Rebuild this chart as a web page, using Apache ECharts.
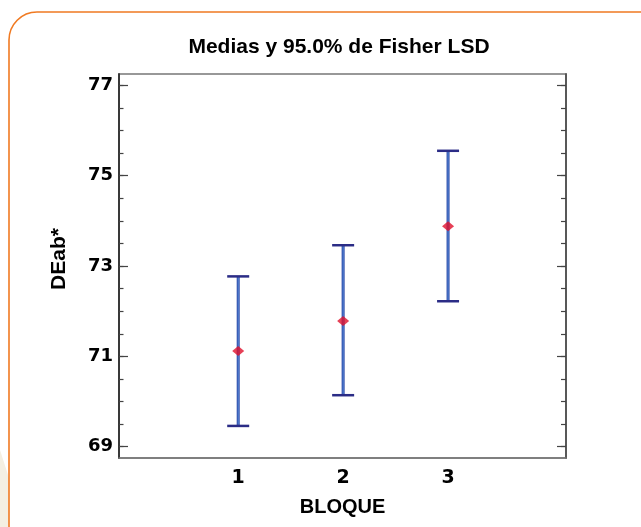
<!DOCTYPE html>
<html>
<head>
<meta charset="utf-8">
<script src="https://cdn.jsdelivr.net/npm/echarts@6/dist/echarts.min.js"></script>
<style>
html,body{margin:0;padding:0;background:#fff;}
#chart{width:641px;height:527px;}
</style>
</head>
<body>
<div id="chart"></div>
<script>
// Data
var categories = [1, 2, 3];
var categoryLabels = ['1', '2', '3'];
var means = [71.12, 71.78, 73.88];
var lower = [69.46, 70.14, 72.22];
var upper = [72.77, 73.46, 75.55];
var yMajorTicks = [69, 71, 73, 75, 77];
var yMinorTicks = [69, 69.5, 70, 70.5, 71, 71.5, 72, 72.5, 73, 73.5, 74, 74.5, 75, 75.5, 76, 76.5, 77];

var FONT = '"Liberation Sans", Arial, sans-serif';
var TICKFONT = '"DejaVu Sans", sans-serif';
var chart = echarts.init(document.getElementById('chart'));

var errData = categories.map(function (c, i) { return [c, lower[i], upper[i]]; });
var ptData = categories.map(function (c, i) { return [c, means[i]]; });

function yAxisBase(pos, ticks, len, showLabel, lineColor) {
  return {
    type: 'value', min: 68.75, max: 77.25, position: pos,
    splitLine: { show: false },
    axisLine: { show: true, onZero: false, lineStyle: { color: lineColor, width: 1.5 } },
    axisTick: { show: true, inside: true, length: len, customValues: ticks, lineStyle: { color: '#444', width: 1.2 } },
    axisLabel: { show: showLabel, customValues: yMajorTicks, margin: 6, color: '#000', fontFamily: TICKFONT, fontWeight: 'bold', fontSize: 18 }
  };
}

var option = {
  animation: false,
  backgroundColor: '#fff',
  grid: { left: 119, top: 74, right: 75, bottom: 69, show: true, borderColor: '#777', borderWidth: 1.5 },
  xAxis: {
    type: 'value', min: -0.136, max: 4.124,
    splitLine: { show: false },
    axisLine: { show: true, onZero: false, lineStyle: { color: '#777', width: 1.5 } },
    axisTick: { show: false },
    axisLabel: { customValues: categories, formatter: function (v) { return categoryLabels[categories.indexOf(v)] || ''; }, margin: 11, color: '#000', fontFamily: TICKFONT, fontWeight: 'bold', fontSize: 19 },
    name: 'BLOQUE', nameLocation: 'middle', nameGap: 39,
    nameTextStyle: { color: '#000', fontFamily: FONT, fontWeight: 'bold', fontSize: 20 }
  },
  yAxis: [
    yAxisBase('left', yMajorTicks, 9, true, '#333'),
    yAxisBase('left', yMinorTicks, 4.5, false, '#333'),
    yAxisBase('right', yMajorTicks, 9, false, '#555'),
    yAxisBase('right', yMinorTicks, 5, false, '#555')
  ],
  graphic: [
    { type: 'polygon', shape: { points: [[0, 450], [9, 478], [9, 527], [0, 527]] }, style: { fill: '#f4efe2' }, z: -10 },
    { type: 'rect', shape: { x: 9, y: 12, width: 680, height: 560, r: 28 }, style: { fill: '#fff', stroke: '#f07a22', lineWidth: 1.6 }, z: -5 },
    { type: 'text', x: 339, y: 47, style: { text: 'Medias y 95.0% de Fisher LSD', textAlign: 'center', textVerticalAlign: 'middle', fill: '#000', font: 'bold 21px ' + FONT }, z: 10 },
    { type: 'text', x: 59, y: 259, rotation: Math.PI / 2, style: { text: 'DEab*', textAlign: 'center', textVerticalAlign: 'middle', fill: '#000', font: 'bold 21px ' + FONT }, z: 10 }
  ],
  series: [
    {
      type: 'custom', yAxisIndex: 0, data: errData,
      renderItem: function (params, api) {
        var x = api.value(0);
        var lo = api.coord([x, api.value(1)]);
        var hi = api.coord([x, api.value(2)]);
        var hw = 11;
        return {
          type: 'group',
          children: [
            { type: 'line', shape: { x1: lo[0], y1: lo[1], x2: hi[0], y2: hi[1] }, style: { stroke: '#2c47a8', lineWidth: 3 } },
            { type: 'line', shape: { x1: lo[0], y1: lo[1], x2: hi[0], y2: hi[1] }, style: { stroke: '#5a8fd8', lineWidth: 1 } },
            { type: 'line', shape: { x1: lo[0] - hw, y1: lo[1], x2: lo[0] + hw, y2: lo[1] }, style: { stroke: '#2b2c86', lineWidth: 2.5 } },
            { type: 'line', shape: { x1: hi[0] - hw, y1: hi[1], x2: hi[0] + hw, y2: hi[1] }, style: { stroke: '#2b2c86', lineWidth: 2.5 } }
          ]
        };
      }
    },
    {
      type: 'scatter', yAxisIndex: 0, data: ptData, symbol: 'diamond', symbolSize: [12, 10],
      itemStyle: { color: '#e0102c' }, z: 5
    }
  ]
};
chart.setOption(option);
</script>
</body>
</html>
